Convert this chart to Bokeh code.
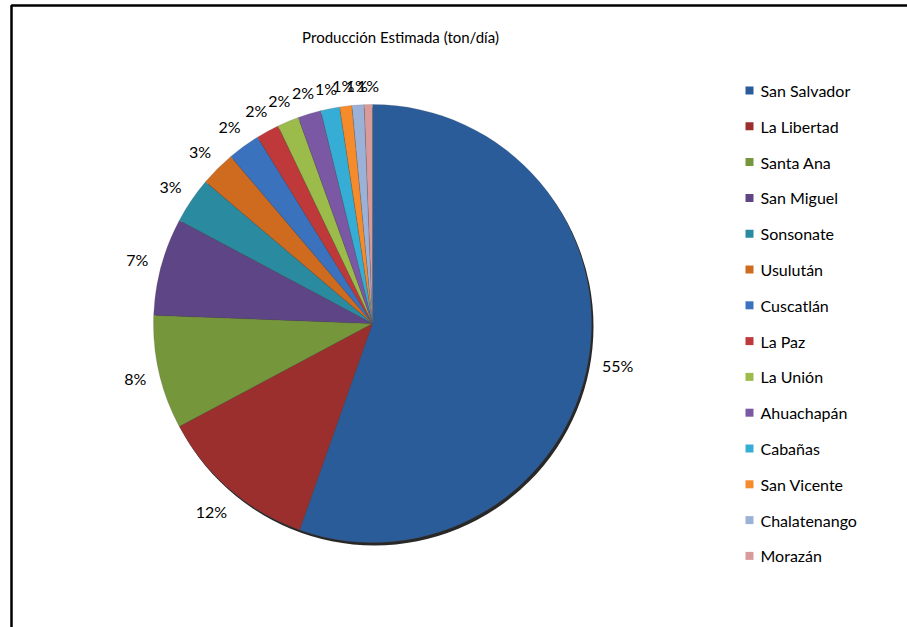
import math
from bokeh.plotting import figure
from bokeh.models import Range1d, ColumnDataSource
from bokeh.core.properties import value
from bokeh.embed import file_html
from bokeh.resources import INLINE

# ---- data ----
title = "Producción Estimada (ton/día)"
departamentos = ["San Salvador", "La Libertad", "Santa Ana", "San Miguel", "Sonsonate",
                 "Usulután", "Cuscatlán", "La Paz", "La Unión", "Ahuachapán", "Cabañas",
                 "San Vicente", "Chalatenango", "Morazán"]
porcentajes = [55.4, 11.8, 8.4, 7.2, 3.4, 2.6, 2.4, 1.7, 1.6, 1.7, 1.4, 0.9, 0.9, 0.6]
colores = ["#2B5C9A", "#9A2F2D", "#75963A", "#5E4585", "#2A8AA0", "#CF6B1F", "#3A72BE",
           "#C0393A", "#9BBB4A", "#7A58A4", "#36ADD4", "#F58B2A", "#9CB1D7", "#D89B9A"]

W, H = 907, 627
FONT = "Lato"

def Y(ypx):
    return H - ypx

cx, cy, r = 372, Y(323), 219

total = sum(porcentajes)
starts, ends, labels, lx, ly = [], [], [], [], []
cum = 0.0
for v in porcentajes:
    a0 = cum / total
    cum += v
    a1 = cum / total
    starts.append(math.pi / 2 - a0 * 2 * math.pi)
    ends.append(math.pi / 2 - a1 * 2 * math.pi)
    lab = f"{round(v / total * 100)}%"
    labels.append(lab)
    mid = math.pi / 2 - (a0 + a1) * math.pi
    hw = len(lab) * 5.6
    hh = 7
    R = r + 12 + hw * abs(math.cos(mid)) + hh * abs(math.sin(mid))
    lx.append(cx + R * math.cos(mid))
    ly.append(cy + R * math.sin(mid))

src = ColumnDataSource(dict(name=departamentos, start=starts, end=ends, color=colores,
                            label=labels, lx=lx, ly=ly))

p = figure(width=W, height=H, output_backend="svg", toolbar_location=None,
           x_range=Range1d(0, W), y_range=Range1d(0, H), min_border=0)
p.axis.visible = False
p.grid.visible = False
p.outline_line_color = None
p.background_fill_color = "white"
p.border_fill_color = "white"

# chart frame (left and top edges visible)
p.line(x=[11, 11, W + 10], y=[-10, Y(5), Y(5)], line_color="black", line_width=2.5)

# title
p.text(x=[400], y=[Y(36)], text=[title], text_font=value(FONT), text_font_size="15px",
       text_align="center", text_baseline="middle", text_color="#000000")

# shadow
p.circle(x=[cx + 2], y=[cy - 3], radius=r, fill_color="#111111", line_color=None, fill_alpha=0.9)

# pie
p.wedge(x=cx, y=cy, radius=r, start_angle="start", end_angle="end", direction="clock",
        fill_color="color", line_color="#555555", line_alpha=0.35, line_width=0.6, source=src)

# percentage labels
p.text(x="lx", y="ly", text="label", source=src, text_font=value(FONT), text_font_size="16px",
       text_align="center", text_baseline="middle", text_color="#000000")

# legend
leg_y = [Y(90 + i * 35.8) for i in range(len(departamentos))]
leg_src = ColumnDataSource(dict(y=leg_y, x=[749] * len(leg_y), tx=[760] * len(leg_y),
                                name=departamentos, color=colores))
p.scatter(x="x", y="y", marker="square", size=8, fill_color="color", line_color=None, source=leg_src)
p.text(x="tx", y="y", text="name", source=leg_src, text_font=value(FONT), text_font_size="16px",
       text_align="left", text_baseline="middle", text_color="#000000")

open("out.html", "w").write(file_html(p, INLINE))
